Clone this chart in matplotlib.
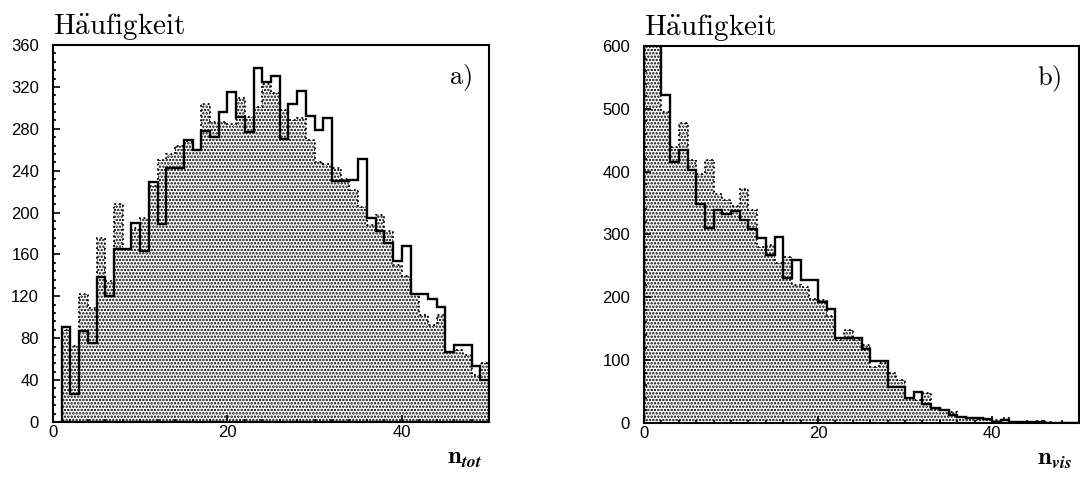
import numpy as np
import matplotlib
matplotlib.use('Agg')
import matplotlib.pyplot as plt
from matplotlib.ticker import MultipleLocator

plt.rcParams['mathtext.fontset'] = 'cm'
plt.rcParams['hatch.linewidth'] = 1.15

# a) n_tot, Bins 1..50
edges_tot = np.arange(1, 51)
tot_linie = [91, 27, 87, 75, 138, 120, 165, 165, 190, 163, 229, 189, 243, 243, 269, 260,
             278, 272, 296, 315, 291, 277, 338, 325, 330, 270, 304, 316, 292, 279, 290, 230,
             230, 231, 251, 195, 182, 171, 154, 168, 122, 122, 117, 110, 67, 74, 74, 53, 40]
tot_grau = [88, 73, 122, 109, 176, 135, 208, 165, 185, 195, 225, 250, 256, 264, 268, 260,
            304, 286, 286, 285, 309, 291, 301, 323, 314, 298, 288, 290, 269, 248, 246, 243,
            232, 222, 205, 188, 198, 182, 150, 139, 122, 102, 93, 102, 67, 69, 64, 45, 56]

# b) n_vis, Bins 0..50
edges_vis = np.arange(0, 51)
vis_linie = [660, 640, 522, 416, 434, 402, 349, 311, 339, 332, 338, 323, 308, 294, 267, 296,
             230, 259, 228, 228, 193, 181, 136, 136, 136, 117, 99, 99, 57, 57, 40, 49, 30, 24,
             21, 12, 10, 8.5, 8.5, 7, 2, 4, 2, 1, 1, 2, 0.5, 0.5, 0.5, 0.5]
vis_grau = [700, 680, 495, 440, 477, 418, 397, 418, 365, 355, 345, 373, 339, 280, 283, 255,
            264, 219, 217, 197, 195, 171, 132, 148, 132, 124, 89, 95, 79, 68, 39, 36, 47, 23,
            21, 17, 10, 8.5, 7, 5, 4, 8.5, 1.6, 2, 1, 3, 1, 0.5, 0.5, 0.3]

fig = plt.figure(figsize=(10.8, 4.79), dpi=100)
ax1 = fig.add_axes([53/1080, 57/479, 436/1080, 377/479])
ax2 = fig.add_axes([644/1080, 56/479, 435/1080, 377/479])


def histo(ax, edges, grau, linie, ymax, ymajor, yminor, buchstabe, xlab):
    ax.stairs(grau, edges, fill=True, facecolor='white', edgecolor='black',
              hatch='.....', linewidth=0)
    ax.stairs(grau, edges, color='black', linestyle=':', linewidth=1.3)
    ax.stairs(linie, edges, color='black', linewidth=1.7)
    ax.set_xlim(0, 50)
    ax.set_ylim(0, ymax)
    ax.xaxis.set_major_locator(MultipleLocator(20))
    ax.xaxis.set_minor_locator(MultipleLocator(2))
    ax.yaxis.set_major_locator(MultipleLocator(ymajor))
    ax.yaxis.set_minor_locator(MultipleLocator(yminor))
    ax.tick_params(which='both', direction='in', top=False, right=False,
                   labelsize=12, width=1.2)
    ax.tick_params(which='major', length=5)
    ax.tick_params(which='minor', length=2.5)
    ax.tick_params(axis='y', pad=10)
    ax.tick_params(axis='x', pad=2)
    for lab in ax.get_xticklabels() + ax.get_yticklabels():
        lab.set_family('Liberation Sans')
    for s in ax.spines.values():
        s.set_linewidth(1.5)
    ax.text(0, 1.028, r'$\mathrm{H\ddot{a}ufigkeit}$', transform=ax.transAxes,
            fontsize=21, ha='left', va='baseline')
    ax.text(0.96, 0.895, r'$\mathrm{' + buchstabe + ')}$', transform=ax.transAxes,
            fontsize=19, ha='right', va='baseline')
    ax.text(0.985, -0.11, xlab, transform=ax.transAxes,
            fontsize=18, ha='right', va='baseline')


histo(ax1, edges_tot, tot_grau, tot_linie, 360, 40, 8, 'a', r'$\mathbf{n}_{\mathbfit{tot}}$')
histo(ax2, edges_vis, vis_grau, vis_linie, 600, 100, 20, 'b', r'$\mathbf{n}_{\mathbfit{vis}}$')

fig.savefig('out.png', dpi=100)
